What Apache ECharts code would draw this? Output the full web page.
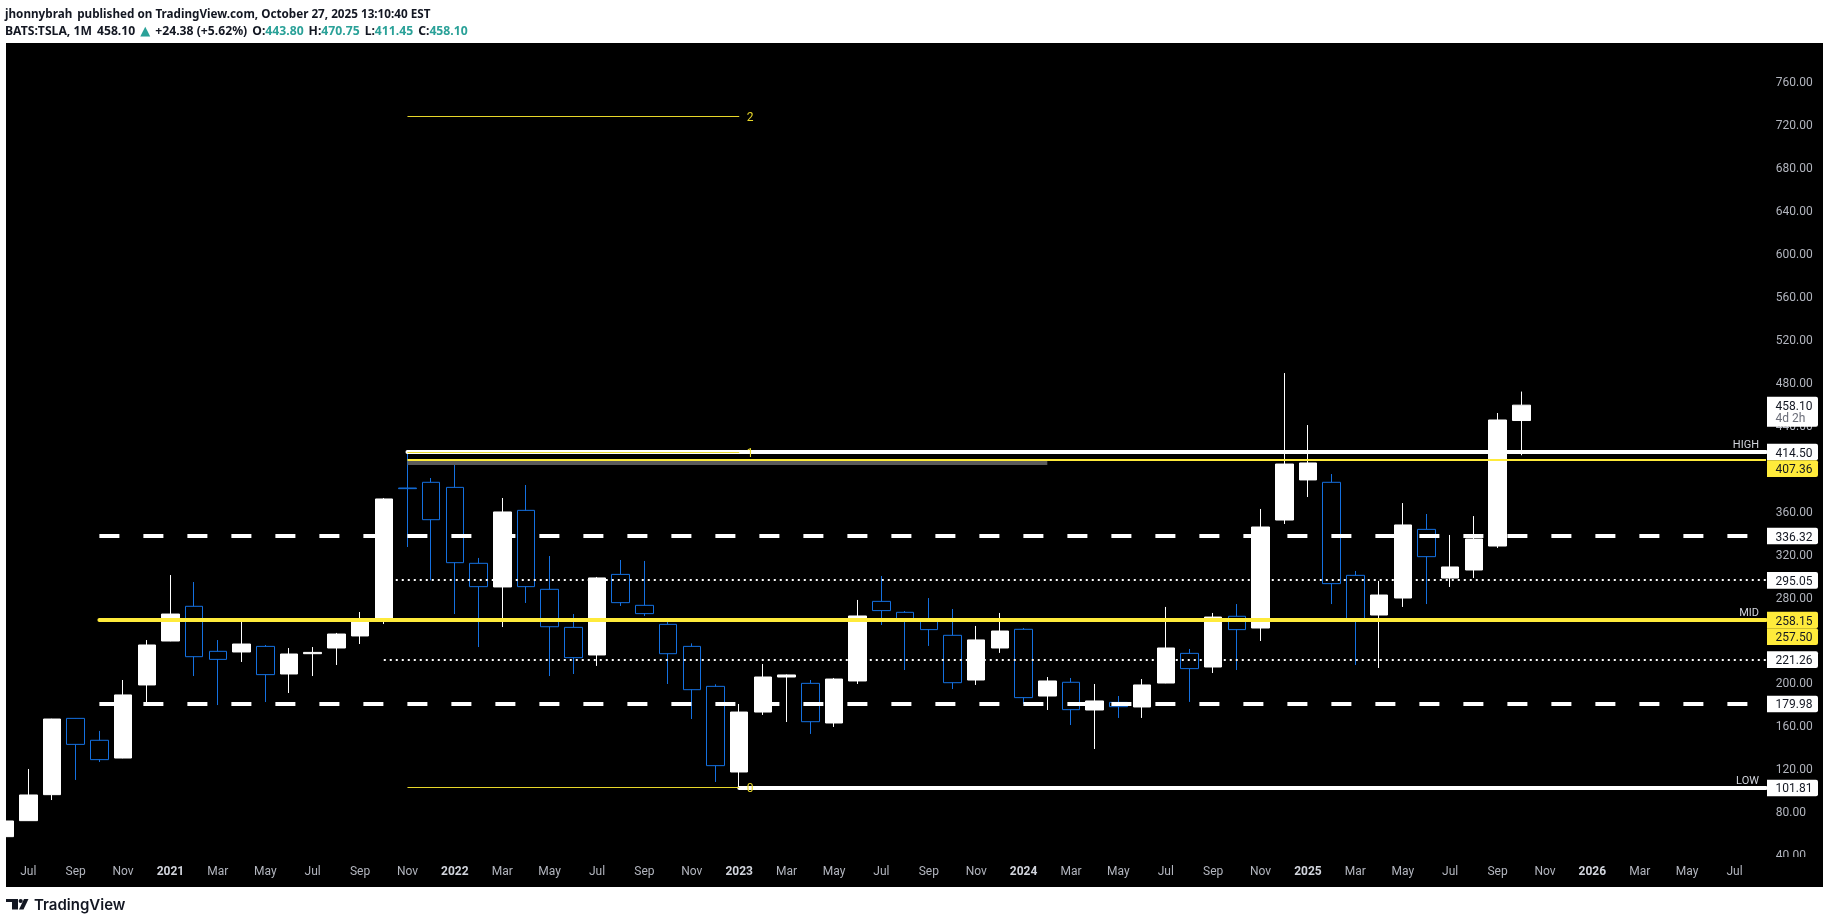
<!DOCTYPE html>
<html><head><meta charset="utf-8">
<style>html,body{margin:0;padding:0;background:#fff}#c{width:1829px;height:923px}</style>
<script src="https://cdn.jsdelivr.net/npm/echarts@6/dist/echarts.min.js"></script>
</head><body><div id="c"></div>
<script>
const months = ['Jun','Jul','Aug','Sep','Oct','Nov','Dec','2021','Feb','Mar','Apr','May','Jun','Jul','Aug','Sep','Oct','Nov','Dec','2022','Feb','Mar','Apr','May','Jun','Jul','Aug','Sep','Oct','Nov','Dec','2023','Feb','Mar','Apr','May','Jun','Jul','Aug','Sep','Oct','Nov','Dec','2024','Feb','Mar','Apr','May','Jun','Jul','Aug','Sep','Oct','Nov','Dec','2025','Feb','Mar','Apr','May','Jun','Jul','Aug','Sep','Oct','Nov','Dec','2026','Feb','Mar','Apr','May','Jun','Jul','Aug'];
const opens  = [56.5,71.4,95.6,166.6,146.2,129.7,197.7,238.6,270.9,229.0,228.4,233.6,207.9,226.8,232.1,243.3,258.2,381.0,386.3,381.6,310.9,288.9,360.2,286.7,251.3,225.6,300.6,271.8,254.1,233.6,196.4,116.7,172.5,205.1,199.2,162.3,201.4,275.5,265.3,258.2,243.9,202.3,232.1,249.5,187.4,200.2,174.4,181.5,177.2,199.5,227.1,214.4,261.6,250.7,351.2,388.5,386.3,299.7,262.8,278.6,342.5,297.2,304.7,327.0,443.8];
const closes = [71.1,95.3,166.0,142.4,128.2,188.4,234.9,263.7,224.0,221.5,235.8,207.3,226.5,228.0,245.1,258.2,370.8,380.4,351.5,311.5,289.2,358.7,289.2,251.9,223.1,297.3,274.3,264.1,226.8,193.3,122.6,172.5,205.1,207.0,163.5,203.2,261.9,266.9,258.2,249.2,199.8,239.6,247.9,185.9,201.4,174.7,182.8,177.5,197.7,232.1,212.9,260.9,249.2,344.7,403.3,404.3,292.0,258.1,281.4,346.6,317.1,307.5,333.5,444.3,458.1];
const lows   = [56.2,71.2,90.6,109.3,126.0,129.5,180.0,238.4,206.0,179.0,219.1,181.8,190.2,206.0,216.3,235.8,254.4,326.1,295.1,263.7,233.0,251.6,274.0,206.0,207.9,215.4,271.2,261.9,198.6,166.0,107.4,101.81,169.8,163.2,152.1,158.6,198.6,253.5,211.6,234.0,193.9,197.7,227.5,180.0,174.4,160.4,138.1,167.0,167.0,199.3,181.9,208.8,211.6,238.6,347.5,372.6,273.0,216.3,213.5,270.3,273.0,288.9,297.2,325.2,411.45];
const highs  = [71.5,119.5,166.2,166.8,154.9,202.3,239.5,300.0,293.5,239.5,258.0,234.9,232.1,233.0,246.1,265.6,371.7,414.5,390.3,402.7,315.9,371.7,383.8,317.7,263.7,298.2,314.0,313.1,258.0,236.4,198.3,180.0,217.2,207.5,202.3,204.2,276.8,299.1,266.5,278.6,268.4,252.6,264.7,250.7,205.1,204.2,198.6,187.4,203.2,270.3,231.2,264.7,273.0,361.5,488.0,439.6,394.0,303.8,294.5,367.0,356.8,337.3,354.9,450.8,470.75];

const priceTicksHidden = [800,400,240];

// horizontal levels: price, first month index, look, caption
const levelPrices   = [414.50,407.36,336.32,295.05,258.15,221.26,179.98,101.81];
const levelStarts   = [17,17,4,16,4,16,4,31];
const levelKinds    = ['whiteSolid','yellowThin','whiteDash','whiteDot','yellowThick','whiteDot','whiteDash','whiteSolid'];
const levelCaptions = ['HIGH','','','','MID','','','LOW'];

// fib retracement
const fibPrices = [101.81,414.50,727.19];
const fibNames  = ['0','1','2'];
const fibStart  = 17;
const fibEnd    = 31;

// gray zone under the 407.36 level
const zoneFrom = 17, zoneTo = 44, zoneTop = 407.36, zoneBottom = 402.4;

// axis tags
const tagPrices = [458.10,414.50,407.36,336.32,295.05,258.15,257.50,221.26,179.98,101.81];
const tagYellow = [false,false,true,false,false,true,true,false,false,false];
const tagExtra  = ['4d 2h','','','','','','','','',''];

const kindStyle = {
  whiteSolid:{stroke:'#ffffff',lineWidth:4,lineCap:'round'},
  yellowThin:{stroke:'#ffeb3b',lineWidth:2},
  whiteDash:{stroke:'#ffffff',lineWidth:4,lineDash:[20,24]},
  whiteDot:{stroke:'#ffffff',lineWidth:2,lineDash:[2,4]},
  yellowThick:{stroke:'#ffeb3b',lineWidth:4,lineCap:'round'}
};
const labelFont = '12px Roboto, sans-serif';
const headerFont = 'Noto Sans', headerSize = 11.7, quoteSize = 12.2;

const chart = echarts.init(document.getElementById('c'),null,{renderer:'canvas'});
const candleData = opens.map((o,i)=>[o,closes[i],lows[i],highs[i]]);
let tagCursor = -Infinity;

chart.setOption({
  animation:false,
  backgroundColor:'#ffffff',
  title:[
    {left:5,top:6,padding:0,itemGap:0,text:'{b|jhonnybrah} {n|published on TradingView.com, October 27, 2025 13:10:40 EST}',
     textStyle:{rich:{b:{fontFamily:headerFont,fontSize:headerSize,fontWeight:700,color:'#131722'},n:{fontFamily:headerFont,fontSize:headerSize,color:'#131722'}}}},
    {left:5,top:23,padding:0,itemGap:0,text:'{b|BATS:TSLA, 1M} {n|458.10} {t|▲} {n|+24.38 (+5.62%)} {b|O:}{v|443.80} {b|H:}{v|470.75} {b|L:}{v|411.45} {b|C:}{v|458.10}',
     textStyle:{rich:{b:{fontFamily:headerFont,fontSize:quoteSize,fontWeight:700,color:'#131722'},n:{fontFamily:headerFont,fontSize:quoteSize,color:'#131722'},v:{fontFamily:headerFont,fontSize:quoteSize,color:'#2aa198'},t:{fontFamily:'DejaVu Sans',fontSize:13,color:'#2aa198'}}}}
  ],
  graphic:[
    {type:'rect',z:-1,silent:true,shape:{x:6,y:43,width:1817,height:844},style:{fill:'#000000'}},
    {type:'rect',z:2,silent:true,shape:{x:6,y:857,width:1817,height:30},style:{fill:'#000000'}},
    {type:'rect',silent:true,shape:{x:6,y:899,width:12,height:3},style:{fill:'#131722'}},
    {type:'rect',silent:true,shape:{x:12,y:899,width:6,height:10.5},style:{fill:'#131722'}},
    {type:'circle',silent:true,shape:{cx:20.7,cy:901,r:2.1},style:{fill:'#131722'}},
    {type:'polygon',silent:true,shape:{points:[[28.5,899],[24,899],[19,909.5],[23.5,909.5]]},style:{fill:'#131722'}},
    {type:'text',silent:true,x:34,y:898,style:{text:'TradingView',font:'600 15px Inter, sans-serif',fill:'#131722'}}
  ],
  grid:{left:4.6,right:70.75,top:37.8,height:816.6,containLabel:false},
  xAxis:{type:'category',data:months,z:3,boundaryGap:false,
    axisLine:{show:false},axisTick:{show:false},splitLine:{show:false},
    axisLabel:{margin:12,interval:(i)=>i%2===1,hideOverlap:false,color:'#b2b5be',fontFamily:'Roboto',fontSize:12,
      formatter:(v)=>/^\d{4}$/.test(v)?'{y|'+v+'}':v,
      rich:{y:{fontFamily:'Roboto',fontSize:12,fontWeight:700,color:'#d1d4dc'}}}},
  yAxis:{type:'value',position:'right',min:40,max:800,interval:40,z:1,scale:false,
    axisLine:{show:false},axisTick:{show:false},splitLine:{show:false},
    axisLabel:{margin:17.5,align:'left',showMinLabel:true,showMaxLabel:true,
      formatter:(v)=>priceTicksHidden.includes(v)?'':'{p|'+v.toFixed(2)+'}',
      rich:{p:{color:'#b2b5be',fontFamily:'Roboto',fontSize:12,padding:[4,0,0,0]}}}},
  series:[
    {type:'candlestick',name:'TSLA',z:2,data:candleData,barWidth:18,
      itemStyle:{color:'#ffffff',color0:'rgba(0,0,0,0)',borderColor:'#ffffff',borderColor0:'#1470e0',borderWidth:1}},
    {type:'custom',name:'zone',z:3,silent:true,data:[[zoneFrom,zoneTop,zoneTo,zoneBottom]],encode:{x:[0,2],y:[1,3]},
      renderItem:(p,api)=>{
        const a=api.coord([api.value(0),api.value(1)]),b=api.coord([api.value(2),api.value(3)]);
        return {type:'rect',shape:{x:a[0],y:a[1],width:b[0]-a[0],height:b[1]-a[1]},style:{fill:'#5c5c5c'}};
      }},
    {type:'custom',name:'levels',z:4,silent:true,data:levelPrices.map((v,i)=>[levelStarts[i],v,i]),encode:{x:0,y:1},
      renderItem:(p,api)=>{
        const i=api.value(2),pt=api.coord([api.value(0),api.value(1)]),end=p.coordSys.x+p.coordSys.width+7.75,y=Math.round(pt[1]);
        const kids=[{type:'line',shape:{x1:pt[0],y1:y,x2:end,y2:y},style:Object.assign({fill:null},kindStyle[levelKinds[i]])}];
        if(levelCaptions[i])kids.push({type:'text',style:{x:end-7,y:y-7,text:levelCaptions[i],textAlign:'right',textVerticalAlign:'middle',font:'11px Roboto, sans-serif',fill:'#d1d4dc'}});
        return {type:'group',children:kids};
      }},
    {type:'custom',name:'fib',z:5,silent:true,data:fibPrices.map((v,i)=>[fibStart,v,fibEnd,i]),encode:{x:[0,2],y:1},
      renderItem:(p,api)=>{
        const a=api.coord([api.value(0),api.value(1)]),b=api.coord([api.value(2),api.value(1)]),y=Math.floor(a[1])+0.5;
        return {type:'group',children:[
          {type:'line',shape:{x1:a[0],y1:y,x2:b[0],y2:y},style:{stroke:'#e8d72a',lineWidth:1}},
          {type:'text',style:{x:b[0]+11,y:y+1,text:fibNames[api.value(3)],textAlign:'center',textVerticalAlign:'middle',font:labelFont,fill:'#e8d72a'}}
        ]};
      }},
    {type:'custom',name:'tags',z:6,silent:true,data:tagPrices.map((v,i)=>[74,v,i]),encode:{x:0,y:1},
      renderItem:(p,api)=>{
        const i=api.value(2),right=p.coordSys.x+p.coordSys.width;
        if(i===0)tagCursor=-Infinity;
        const h=16.6,yc=Math.max(api.coord([0,api.value(1)])[1],tagCursor+h/2);
        const extra=tagExtra[i],total=extra?30:h;
        tagCursor=yc-h/2+total;
        const kids=[{type:'rect',shape:{x:right+8.75,y:yc-h/2,width:51,height:total,r:[0,2,2,0]},style:{fill:tagYellow[i]?'#ffeb3b':'#ffffff'}},
          {type:'text',style:{x:right+17.25,y:yc+1.5,text:tagPrices[i].toFixed(2),textVerticalAlign:'middle',font:labelFont,fill:'#131722'}}];
        if(extra)kids.push({type:'text',style:{x:right+17.25,y:yc+14,text:extra,textVerticalAlign:'middle',font:labelFont,fill:'#6a6d78'}});
        return {type:'group',children:kids};
      }}
  ]
});
</script></body></html>
